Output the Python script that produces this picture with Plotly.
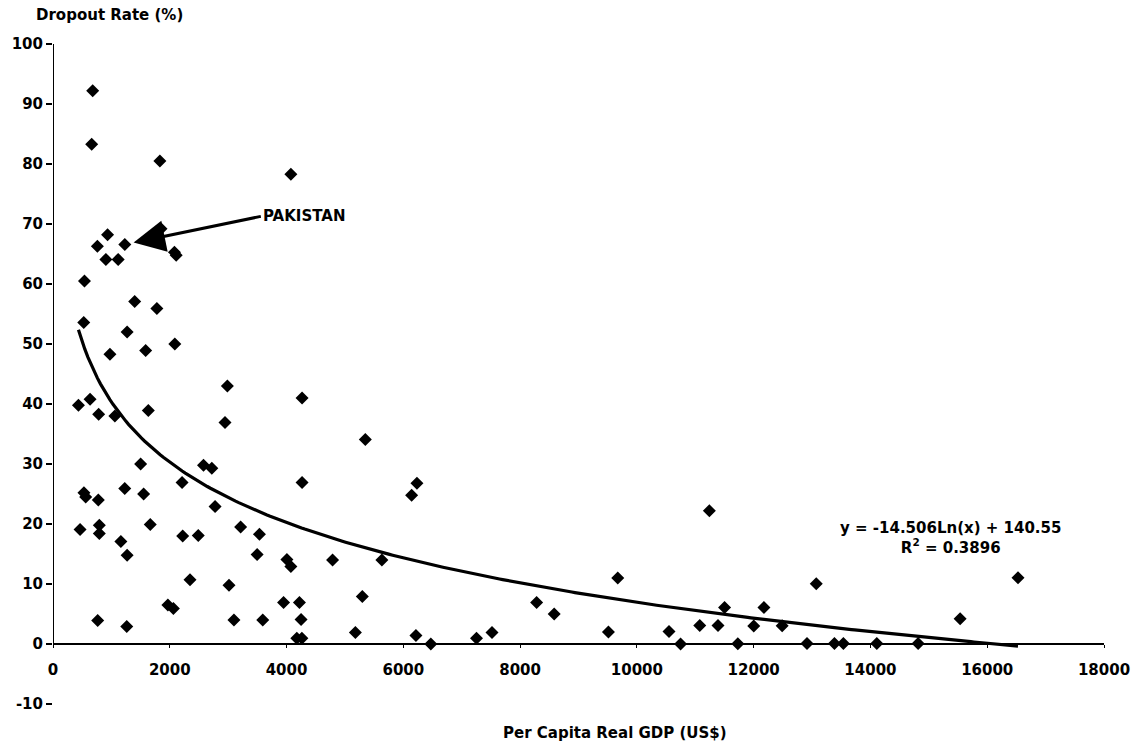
import numpy as np
import plotly.graph_objects as go

# Per capita real GDP (US$) and primary-school dropout rate (%) by country
gdp = [680, 663, 1830, 4074, 935, 760, 1230, 1850, 2080, 2110, 906, 1116, 539, 1399,
       1779, 527, 1269, 975, 1587, 2086, 2986, 4266, 436, 635, 782, 1060, 1632, 2946,
       5349,
       1501, 2578, 2720, 4266, 2210, 1229, 530, 560, 776, 1552, 2776, 464, 793, 793,
       1666, 3213, 2221, 2488, 3536, 1162, 1269, 3496, 4006, 4074, 4788, 5632, 2346,
       3014, 1967, 2062, 3949, 4221, 5298, 765, 1263, 3099, 3592, 4249, 5179, 4176,
       4262,
       6142, 6233, 11241, 9672, 8283, 8584, 6216, 6471, 7253, 7519, 9513, 10550,
       10748, 11077, 11389, 11502, 11729, 12001, 12176,
       12488, 13072, 12914, 13383, 13536, 14109, 14817, 15536, 16527]
dropout = [92.2, 83.3, 80.5, 78.3, 68.2, 66.3, 66.6, 69.2, 65.3, 64.8, 64.1, 64.1, 60.5, 57.1,
           55.9, 53.6, 52.0, 48.3, 48.9, 50.0, 43.0, 41.0, 39.8, 40.8, 38.3, 38.0, 38.9, 36.9,
           34.1,
           30.0, 29.8, 29.3, 26.9, 26.9, 25.9, 25.2, 24.5, 24.0, 25.0, 22.9, 19.1, 19.8, 18.4,
           19.9, 19.5, 18.0, 18.1, 18.3, 17.1, 14.8, 14.9, 14.1, 12.9, 14.0, 14.0, 10.7,
           9.8, 6.5, 5.9, 6.9, 6.9, 7.9, 3.9, 2.9, 4.0, 4.0, 4.1, 1.9, 0.95,
           0.95,
           24.8, 26.8, 22.2, 11.0, 6.9, 5.0, 1.4, 0.0, 0.95, 1.9, 2.0, 2.1,
           0.0, 3.1, 3.1, 6.1, 0.05, 3.0, 6.1,
           3.05, 10.05, 0.1, 0.1, 0.1, 0.1, 0.1, 4.2, 11.05]

# Highlighted country
pak_gdp, pak_dropout = 1230, 66.6

# Logarithmic trendline coefficients: y = slope*ln(x) + intercept
slope = -14.506
intercept = 140.55
r_squared = 0.3896

x_ticks = [0, 2000, 4000, 6000, 8000, 10000, 12000, 14000, 16000, 18000]
y_ticks = [-10, 0, 10, 20, 30, 40, 50, 60, 70, 80, 90, 100]

FONT = "DejaVu Sans, Arial, sans-serif"
BOLD = dict(family=FONT, size=15, color="black", weight="bold")

trend_x = np.linspace(min(gdp), max(gdp), 300)
trend_y = slope * np.log(trend_x) + intercept

fig = go.Figure()
fig.add_trace(go.Scatter(
    x=trend_x, y=trend_y, mode="lines",
    line=dict(color="black", width=3.2), hoverinfo="skip"))
fig.add_trace(go.Scatter(
    x=gdp, y=dropout, mode="markers",
    marker=dict(symbol="diamond", size=10, color="black", line=dict(width=0))))

# Vertical axis line drawn only over the non-negative range
fig.add_shape(type="line", xref="x", yref="y", x0=0, x1=0, y0=0, y1=100,
              line=dict(color="black", width=2))

y_lo, y_hi = -10, 100
fig.update_layout(
    width=1142, height=748,
    margin=dict(l=51, r=32, t=44, b=44),
    paper_bgcolor="white", plot_bgcolor="white",
    showlegend=False,
    font=BOLD,
    xaxis=dict(
        range=[0, 18000], tickvals=x_ticks, ticktext=[str(v) for v in x_ticks],
        showgrid=False, zeroline=False, showline=True, linecolor="black", linewidth=2,
        ticks="outside", ticklen=3, tickcolor="black", tickwidth=1,
        anchor="free", position=(0 - y_lo) / (y_hi - y_lo),
        ticklabelstandoff=9, tickfont=BOLD),
    yaxis=dict(
        range=[y_lo, y_hi], tickvals=y_ticks, ticktext=[str(v) for v in y_ticks],
        showgrid=False, zeroline=False, showline=False,
        ticks="outside", ticklen=6, tickcolor="black", tickwidth=2,
        tickfont=BOLD),
)

eq_text = (f"y = {slope:.3f}Ln(x) + {intercept:.2f}<br>"
           f"R<sup>2</sup> = {r_squared:.4f}")
fig.add_annotation(x=15370, y=17.6, xref="x", yref="y", text=eq_text,
                   showarrow=False, font=BOLD, xanchor="center", yanchor="middle")

# Label with an arrow pointing at the highlighted country
fig.add_annotation(x=pak_gdp, y=pak_dropout, xref="x", yref="y", text="PAKISTAN",
                   showarrow=True, ax=136, ay=-28, axref="pixel", ayref="pixel",
                   xanchor="left", yanchor="middle",
                   arrowhead=2, arrowsize=2.1, arrowwidth=3, arrowcolor="black",
                   standoff=9, font=BOLD)

fig.add_annotation(x=-19 / 1059, y=1 + 28.5 / 660, xref="paper", yref="paper",
                   text="Dropout Rate (%)", showarrow=False, font=BOLD,
                   xanchor="left", yanchor="middle")
fig.add_annotation(x=(617 - 51) / 1059, y=-(733 - 704) / 660, xref="paper", yref="paper",
                   text="Per Capita Real GDP (US$)", showarrow=False, font=BOLD,
                   xanchor="center", yanchor="middle")

fig.write_html("out.html")
